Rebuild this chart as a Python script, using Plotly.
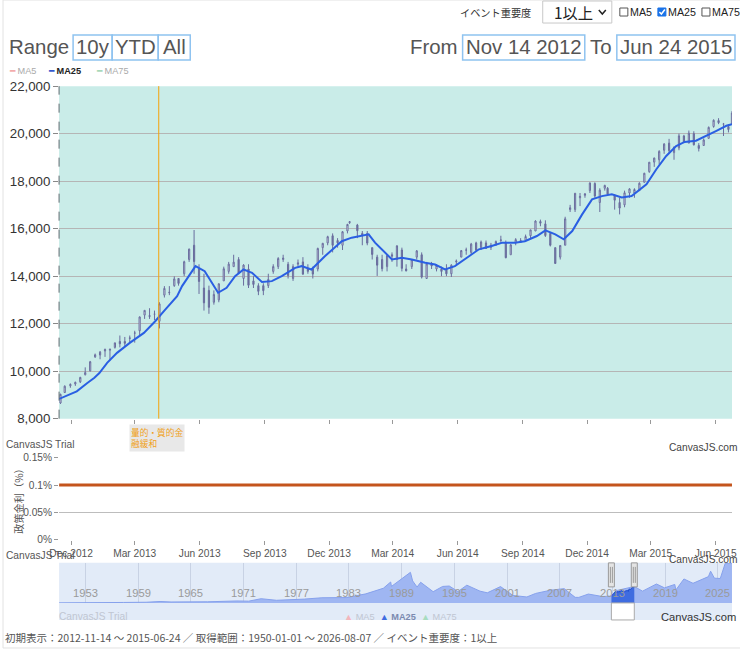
import plotly.graph_objects as go

W, H = 740, 649
# the page gets photographed with a thin border around it, so the figure is drawn a bit
# larger and pulled up/left by that border
PAD = 8
FW, FH = W + 2 * PAD, H + 2 * PAD
K = FW / W

# weekly candles (week ending)
week_dates = [
    "2012-11-16", "2012-11-22", "2012-11-30", "2012-12-07", "2012-12-14", "2012-12-21", "2012-12-28",
    "2013-01-04", "2013-01-11", "2013-01-18", "2013-01-25", "2013-02-01", "2013-02-08", "2013-02-15",
    "2013-02-22", "2013-03-01", "2013-03-08", "2013-03-15", "2013-03-22", "2013-03-29", "2013-04-05",
    "2013-04-12", "2013-04-19", "2013-04-26", "2013-05-02", "2013-05-10", "2013-05-17", "2013-05-24",
    "2013-05-31", "2013-06-07", "2013-06-14", "2013-06-21", "2013-06-28", "2013-07-05", "2013-07-12",
    "2013-07-19", "2013-07-26", "2013-08-02", "2013-08-09", "2013-08-16", "2013-08-23", "2013-08-30",
    "2013-09-06", "2013-09-13", "2013-09-20", "2013-09-27", "2013-10-04", "2013-10-11", "2013-10-18",
    "2013-10-25", "2013-11-01", "2013-11-08", "2013-11-15", "2013-11-22", "2013-11-29", "2013-12-06",
    "2013-12-13", "2013-12-20", "2013-12-27", "2013-12-30", "2014-01-10", "2014-01-17", "2014-01-24",
    "2014-01-31", "2014-02-07", "2014-02-14", "2014-02-21", "2014-02-28", "2014-03-07", "2014-03-14",
    "2014-03-20", "2014-03-28", "2014-04-04", "2014-04-11", "2014-04-18", "2014-04-25", "2014-05-02",
    "2014-05-09", "2014-05-16", "2014-05-23", "2014-05-30", "2014-06-06", "2014-06-13", "2014-06-20",
    "2014-06-27", "2014-07-04", "2014-07-11", "2014-07-18", "2014-07-25", "2014-08-01", "2014-08-08",
    "2014-08-15", "2014-08-22", "2014-08-29", "2014-09-05", "2014-09-12", "2014-09-19", "2014-09-26",
    "2014-10-03", "2014-10-10", "2014-10-17", "2014-10-24", "2014-10-31", "2014-11-07", "2014-11-14",
    "2014-11-21", "2014-11-28", "2014-12-05", "2014-12-12", "2014-12-19", "2014-12-26", "2014-12-30",
    "2015-01-09", "2015-01-16", "2015-01-23", "2015-01-30", "2015-02-06", "2015-02-13", "2015-02-20",
    "2015-02-27", "2015-03-06", "2015-03-13", "2015-03-20", "2015-03-27", "2015-04-03", "2015-04-10",
    "2015-04-17", "2015-04-24", "2015-05-01", "2015-05-08", "2015-05-15", "2015-05-22", "2015-05-29",
    "2015-06-05", "2015-06-12", "2015-06-19", "2015-06-24",
]
opens = [
    8660, 9100, 9380, 9460, 9550, 9850, 10010,
    10600, 10680, 10850, 10880, 11000, 11250, 11250,
    11400, 11600, 11700, 12360, 12300, 12400, 12100,
    13200, 13300, 13600, 13900, 14100, 14700, 15300,
    14300, 13500, 13400, 12900, 13000, 13800, 14200,
    14400, 14700, 13900, 14300, 13800, 13600, 13600,
    13600, 14200, 14400, 14700, 14500, 13900, 14500,
    14600, 14300, 14300, 14300, 15200, 15400, 15700,
    15500, 15300, 15900, 16250, 16150, 15800, 15800,
    15200, 14800, 14700, 14400, 14900, 14700, 15100,
    14300, 14400, 14800, 14900, 13900, 14500, 14300,
    14300, 14300, 14100, 14600, 14800, 15100, 15000,
    15400, 15200, 15400, 15300, 15300, 15500, 15400,
    14900, 15400, 15500, 15500, 15700, 15900, 16300,
    16200, 15800, 15200, 14800, 15300, 16800, 16800,
    17300, 17400, 17600, 17900, 17100, 17700, 17700,
    17400, 17100, 17000, 17500, 17500, 17600, 17950,
    18400, 18800, 18900, 19300, 19600, 19200, 19400,
    19900, 19600, 20000, 19500, 19500, 19800, 20300,
    20550, 20400, 20300, 20400,
]
highs = [
    9050, 9400, 9480, 9560, 9760, 10160, 10430,
    10740, 10850, 10950, 10900, 11200, 11500, 11440,
    11500, 11700, 12300, 12560, 12650, 12550, 12900,
    13580, 13580, 13990, 13900, 14650, 15160, 15942,
    14500, 14100, 13600, 13400, 13700, 14400, 14600,
    14900, 14800, 14500, 14500, 14000, 13700, 13700,
    14100, 14500, 14800, 14900, 14600, 14500, 14700,
    14800, 14500, 14400, 15200, 15400, 15700, 15800,
    15600, 15900, 16200, 16320, 16200, 15900, 15900,
    15200, 14900, 14900, 14900, 15000, 15300, 15200,
    14500, 14700, 15100, 15000, 14600, 14600, 14500,
    14400, 14500, 14500, 14700, 15100, 15200, 15400,
    15450, 15500, 15500, 15400, 15500, 15700, 15500,
    15350, 15600, 15600, 15750, 15950, 16350, 16380,
    16350, 15850, 15200, 15300, 16500, 17000, 17500,
    17500, 17500, 17950, 17950, 17700, 17850, 17750,
    17450, 17300, 17600, 17700, 17700, 17950, 18350,
    18800, 18990, 19300, 19600, 19780, 19450, 20000,
    19950, 20130, 20100, 19600, 19800, 20300, 20600,
    20650, 20450, 20400, 20950,
]
lows = [
    8620, 9080, 9300, 9380, 9500, 9820, 9990,
    10560, 10500, 10600, 10450, 10950, 11000, 11060,
    11180, 11200, 11500, 12200, 12200, 12150, 11800,
    13100, 13200, 13550, 13600, 14000, 14600, 14100,
    13250, 12550, 12415, 12800, 12900, 13800, 14100,
    14400, 14100, 13600, 13500, 13500, 13200, 13200,
    13500, 14100, 14300, 14600, 13900, 13800, 14400,
    14050, 14100, 13900, 14200, 14900, 15300, 15000,
    15200, 15100, 15800, 16200, 15600, 15300, 15300,
    14700, 14008, 14200, 14200, 14600, 14400, 14200,
    14200, 14300, 14700, 13900, 13900, 14300, 14200,
    14000, 14000, 13964, 14500, 14800, 14900, 14900,
    15050, 15100, 15150, 15100, 15300, 15400, 14750,
    14900, 15300, 15400, 15450, 15600, 15900, 16100,
    15650, 15250, 14530, 14700, 15300, 16700, 16700,
    16950, 17300, 17500, 17300, 16700, 17600, 17450,
    16800, 16600, 16900, 17300, 17300, 17600, 17950,
    18350, 18600, 18700, 19150, 19200, 18900, 19300,
    19600, 19600, 19500, 19250, 19500, 19800, 20250,
    20400, 19900, 20050, 20400,
]
closes = [
    9024, 9366, 9446, 9527, 9737, 9940, 10395,
    10688, 10801, 10913, 10926, 11191, 11153, 11173,
    11385, 11606, 12283, 12560, 12338, 12397, 12833,
    13485, 13317, 13884, 13694, 14607, 15138, 14612,
    13775, 12877, 12686, 13230, 13677, 14310, 14506,
    14589, 14130, 14466, 13615, 13650, 13360, 13389,
    13861, 14404, 14742, 14760, 14024, 14404, 14561,
    14088, 14201, 14086, 15165, 15381, 15661, 15299,
    15403, 15870, 16178, 16291, 15912, 15734, 15391,
    14914, 14462, 14313, 14865, 14841, 15274, 14327,
    14224, 14696, 15063, 13960, 14516, 14429, 14457,
    14199, 14097, 14462, 14632, 15077, 15097, 15349,
    15095, 15437, 15164, 15215, 15457, 15523, 14778,
    15318, 15539, 15424, 15668, 15948, 16321, 16229,
    15708, 15300, 14532, 15291, 16413, 16880, 17490,
    17357, 17459, 17920, 17371, 17621, 17818, 17450,
    17197, 16864, 17511, 17674, 17648, 17913, 18332,
    18797, 18971, 19254, 19560, 19286, 19435, 19907,
    19652, 20020, 19531, 19379, 19733, 20264, 20563,
    20461, 20407, 20174, 20868,
]

# 25 day moving average
ma_dates = [
    "2012-11-14", "2012-12-09", "2012-12-24", "2013-01-03", "2013-01-10", "2013-01-21", "2013-02-04",
    "2013-02-22", "2013-03-14", "2013-03-30", "2013-04-11", "2013-04-30", "2013-05-07", "2013-05-16",
    "2013-05-26", "2013-06-08", "2013-06-18", "2013-06-27", "2013-07-09", "2013-07-21", "2013-08-02",
    "2013-08-14", "2013-08-28", "2013-09-11", "2013-09-25", "2013-10-14", "2013-10-23", "2013-11-06",
    "2013-11-25", "2013-12-19", "2014-01-02", "2014-01-26", "2014-02-04", "2014-02-18", "2014-02-28",
    "2014-03-14", "2014-03-28", "2014-04-16", "2014-04-30", "2014-05-14", "2014-05-28", "2014-06-17",
    "2014-07-01", "2014-07-19", "2014-08-03", "2014-08-21", "2014-09-04", "2014-09-21", "2014-10-03",
    "2014-10-17", "2014-10-29", "2014-11-10", "2014-11-24", "2014-12-08", "2014-12-22", "2015-01-05",
    "2015-01-19", "2015-02-02", "2015-02-23", "2015-03-09", "2015-03-23", "2015-04-06", "2015-04-18",
    "2015-05-04", "2015-05-19", "2015-06-02", "2015-06-16", "2015-06-24",
]
ma_values = [
    8830, 9150, 9500, 9720, 9920, 10350, 10770,
    11190, 11610, 12100, 12520, 13160, 13580, 14000,
    14420, 14210, 13720, 13300, 13510, 14000, 14280,
    14140, 13750, 13790, 14000, 14350, 14420, 14280,
    14840, 15470, 15620, 15760, 15410, 14990, 14700,
    14770, 14700, 14560, 14490, 14280, 14420, 14840,
    15130, 15270, 15410, 15410, 15470, 15690, 15930,
    15760, 15550, 15900, 16600, 17230, 17370, 17450,
    17310, 17370, 17870, 18500, 19060, 19480, 19650,
    19700, 19900, 20120, 20330, 20400,
]

# policy rate (%)
rate_dates = ["2012-11-14", "2015-06-24"]
rate_values = [0.1, 0.1]

event_dates = ["2013-04-04"]
event_labels = ["量的・質的金<br>融緩和"]

tick_dates = ["2012-12-01", "2013-03-01", "2013-06-01", "2013-09-01", "2013-12-01", "2014-03-01",
              "2014-06-01", "2014-09-01", "2014-12-01", "2015-03-01", "2015-06-01"]
tick_labels = ["Dec 2012", "Mar 2013", "Jun 2013", "Sep 2013", "Dec 2013", "Mar 2014",
               "Jun 2014", "Sep 2014", "Dec 2014", "Mar 2015", "Jun 2015"]

# navigator, whole history
nav_dates = [
    "1950-01-01", "1950-07-01", "1953-02-01", "1954-11-01", "1957-05-01", "1959-12-01", "1961-07-01",
    "1962-10-01", "1965-07-01", "1966-12-01", "1970-04-01", "1971-08-01", "1973-01-01", "1974-10-01",
    "1977-12-01", "1979-12-01", "1982-10-01", "1984-12-01", "1986-12-01", "1987-10-01", "1987-11-01",
    "1988-12-01", "1989-12-29", "1990-04-01", "1990-10-01", "1991-03-01", "1992-08-01", "1993-09-01",
    "1994-06-01", "1995-06-01", "1996-06-01", "1997-12-01", "1998-10-01", "2000-04-01", "2001-09-01",
    "2003-04-01", "2004-04-01", "2005-12-01", "2007-07-01", "2008-10-01", "2009-03-01", "2010-04-01",
    "2011-11-01", "2012-11-01", "2013-05-22", "2015-06-24", "2016-06-01", "2018-01-01", "2018-12-01",
    "2020-02-01", "2020-03-19", "2021-02-15", "2022-03-01", "2023-12-01", "2024-03-01", "2024-08-05",
    "2025-04-07", "2025-10-31", "2026-08-07",
]
nav_values = [
    110, 90, 470, 320, 600, 870, 1830,
    1220, 1100, 1450, 2500, 2250, 5360, 3360,
    4870, 6570, 6850, 11540, 18700, 26650, 21000,
    30160, 38915, 28000, 20220, 26300, 14300, 21000,
    21500, 14500, 22600, 15000, 12900, 20800, 9500,
    7600, 12100, 16100, 18200, 7100, 7050, 11300,
    8200, 8700, 15600, 20900, 15000, 24100, 19200,
    23500, 16550, 30500, 25000, 33500, 40400, 31500,
    31100, 50500, 50800,
]
nav_years = [1953, 1959, 1965, 1971, 1977, 1983, 1989, 1995, 2001, 2007, 2013, 2019, 2025]

view_start, view_end = "2012-11-14", "2015-06-24"


def px(x):
    return x / W


def py(y):
    return 1 - y / H


def fs(size):
    return round(size * K, 1)


FONT = "Liberation Sans, Arial, sans-serif"
JP = "Noto Sans CJK JP, sans-serif"
CANDLE = "#6a6d9e"

fig = go.Figure()

fig.add_trace(go.Candlestick(
    x=week_dates, open=opens, high=highs, low=lows, close=closes,
    increasing=dict(line=dict(color=CANDLE, width=1), fillcolor="#f4f4fa"),
    decreasing=dict(line=dict(color=CANDLE, width=1), fillcolor=CANDLE),
    whiskerwidth=0, showlegend=False, xaxis="x", yaxis="y",
))
fig.add_trace(go.Scatter(
    x=ma_dates, y=ma_values, mode="lines", line=dict(color="#2a5fe3", width=2),
    showlegend=False, xaxis="x", yaxis="y",
))
fig.add_trace(go.Scatter(
    x=rate_dates, y=rate_values, mode="lines", line=dict(color="#c4541c", width=3),
    showlegend=False, xaxis="x2", yaxis="y2",
))
fig.add_trace(go.Scatter(
    x=nav_dates, y=nav_values, mode="lines", fill="tozeroy", fillcolor="#9fb6f2",
    line=dict(color="#86a1ec", width=1), showlegend=False, xaxis="x3", yaxis="y3",
))
fig.add_trace(go.Scatter(
    x=week_dates, y=closes, mode="lines", fill="tozeroy", fillcolor="#3f6ce0",
    line=dict(color="#1f4ed0", width=1), showlegend=False, xaxis="x3", yaxis="y3",
))

xdom = [px(57), px(729)]
fig.update_layout(
    width=FW, height=FH, margin=dict(l=0, r=0, t=0, b=0),
    paper_bgcolor="white", plot_bgcolor="white",
    font=dict(family=FONT, color="#444"),
    boxgap=0.2,
    xaxis=dict(domain=xdom, anchor="y", type="date", range=[view_start, view_end],
               rangeslider=dict(visible=False), showticklabels=False, showgrid=False,
               tickvals=tick_dates, ticks="outside", ticklen=4, tickcolor="#999"),
    yaxis=dict(domain=[py(419), py(87)], anchor="x", range=[8000, 22000], dtick=2000,
               tickformat=",", gridcolor="#b5b5b5", zeroline=False, ticks="outside",
               ticklen=5, tickcolor="#888", tickfont=dict(size=fs(13), color="#333")),
    xaxis2=dict(domain=xdom, anchor="y2", type="date", range=[view_start, view_end],
                tickvals=tick_dates, ticktext=tick_labels, showgrid=False,
                ticks="outside", ticklen=4, tickcolor="#999",
                tickfont=dict(size=fs(10), color="#555")),
    yaxis2=dict(domain=[py(540), py(458)], anchor="x2", range=[0, 0.15],
                tickvals=[0, 0.05, 0.1, 0.15], ticktext=["0%", "0.05%", "0.1%", "0.15%"],
                gridcolor="#bdbdbd", zeroline=False, ticks="outside", ticklen=4,
                tickcolor="#999", tickfont=dict(size=fs(10), color="#555")),
    xaxis3=dict(domain=xdom, anchor="y3", type="date", range=["1950-01-01", "2026-08-07"],
                showticklabels=False, tickvals=[f"{y}-01-01" for y in nav_years],
                showgrid=True, gridcolor="#c8d2e4"),
    yaxis3=dict(domain=[py(603), py(563)], anchor="x3", range=[0, 51000], visible=False),
)

shapes = [
    # outer frame
    dict(type="rect", xref="paper", yref="paper", x0=px(1), x1=px(739), y0=py(648), y1=py(1),
         line=dict(color="#e2e2e2", width=1)),
    # main plot background + dashed axis
    dict(type="rect", xref="x domain", yref="y domain", x0=0, x1=1, y0=0, y1=1,
         fillcolor="#c9ece8", line=dict(width=0), layer="below"),
    dict(type="line", xref="x domain", yref="y domain", x0=0, x1=0, y0=0, y1=1,
         line=dict(color="#5f6b70", width=1, dash="dash")),
    # navigator background
    dict(type="rect", xref="paper", yref="paper", x0=xdom[0], x1=xdom[1], y0=py(620), y1=py(563),
         fillcolor="#e2ebf8", line=dict(width=0), layer="below"),
    dict(type="rect", xref="x3", yref="paper", x0=view_start, x1=view_end, y0=py(620), y1=py(603),
         fillcolor="white", line=dict(color="#aaaaaa", width=1)),
    # top right select box
    dict(type="rect", xref="paper", yref="paper", x0=px(540), x1=px(609), y0=py(24), y1=py(2),
         fillcolor="white", line=dict(color="#c8c8c8", width=1)),
    dict(type="path", xref="paper", yref="paper",
         path=f"M {px(596)} {py(11)} L {px(599.5)} {py(15)} L {px(603)} {py(11)}",
         line=dict(color="#222", width=1.5)),
]

for d in event_dates:
    shapes.append(dict(type="line", xref="x", yref="y domain", x0=d, x1=d, y0=0, y1=1,
                       line=dict(color="#f5a20a", width=1)))

for d in [view_start, view_end]:
    shapes.append(dict(type="rect", xref="x3", yref="paper", xsizemode="pixel", xanchor=d,
                       x0=-3, x1=3, y0=py(587), y1=py(563),
                       fillcolor="#e4e4e4", line=dict(color="#9a9a9a", width=1)))
    for off in [-1, 1]:
        shapes.append(dict(type="line", xref="x3", yref="paper", xsizemode="pixel", xanchor=d,
                           x0=off, x1=off, y0=py(583), y1=py(567),
                           line=dict(color="#9a9a9a", width=1)))

# range buttons and date boxes
for x0, x1 in [(71, 110), (110, 156), (156, 188), (460, 582), (614, 732)]:
    shapes.append(dict(type="rect", xref="paper", yref="paper", x0=px(x0), x1=px(x1),
                       y0=py(61), y1=py(36), line=dict(color="#8fc3f0", width=1.5)))

# checkboxes
for x0, checked in [(617, False), (655, True), (699, False)]:
    shapes.append(dict(type="rect", xref="paper", yref="paper", x0=px(x0), x1=px(x0 + 8),
                       y0=py(17), y1=py(9),
                       fillcolor="#1a73e8" if checked else "white",
                       line=dict(color="#1a73e8" if checked else "#555", width=1)))
    if checked:
        shapes.append(dict(type="path", xref="paper", yref="paper",
                           path=f"M {px(x0 + 1.5)} {py(13)} L {px(x0 + 3.5)} {py(15)} L {px(x0 + 7)} {py(10.5)}",
                           line=dict(color="white", width=1.5)))

fig.update_layout(shapes=shapes)

ann = []


def text(x, y, s, size, color="#555", xanchor="left", family=FONT, **kw):
    ann.append(dict(xref="paper", yref="paper", x=px(x), y=py(y), text=s, showarrow=False,
                    xanchor=xanchor, yanchor="middle",
                    font=dict(size=fs(size), color=color, family=family), **kw))


text(5, 48, "Range", 20)
text(90.5, 48, "10y", 20, xanchor="center")
text(133, 48, "YTD", 20, xanchor="center")
text(172, 48, "All", 20, xanchor="center")
text(457, 48, "From", 20, xanchor="right")
text(521, 48, "Nov 14 2012", 20, xanchor="center")
text(598, 48, "To", 20, xanchor="center")
text(673, 48, "Jun 24 2015", 20, xanchor="center")

text(530, 13, "イベント重要度", 10, color="#333", xanchor="right", family=JP)
text(549, 13, "1以上", 15, color="#222", family=JP)
text(625, 13, "MA5", 10.5, color="#222")
text(663, 13, "MA25", 10.5, color="#222")
text(707, 13, "MA75", 10.5, color="#222")

text(5, 72, "<span style='color:#f2a3a3'>━</span> MA5", 9, color="#aaa")
text(44, 72, "<span style='color:#2046c8'>━</span> <b>MA25</b>", 9, color="#222")
text(92, 72, "<span style='color:#9fd4b2'>━</span> MA75", 9, color="#aaa")

text(2, 445, "CanvasJS Trial", 10, color="#555")
text(737, 448, "CanvasJS.com", 10, color="#444", xanchor="right")
text(2, 556, "CanvasJS Trial", 10, color="#555")
text(737, 560, "CanvasJS.com", 10, color="#444", xanchor="right")
text(55, 617, "CanvasJS Trial", 10, color="#c0c6d2")
text(340, 617, "<span style='color:#f3b6bd'>▲</span> MA5  <span style='color:#3f6ce0'>▲</span> "
     "<b style='color:#7b8ab0'>MA25</b>  <span style='color:#a8dcc0'>▲</span> MA75", 9, color="#c0c6d2")
text(735, 617, "CanvasJS.com", 11, color="#333", xanchor="right")

text(17, 499, "政策金利（%）", 10, color="#555", xanchor="center", family=JP, textangle=-90)

text(1, 638, "初期表示：2012-11-14 〜 2015-06-24 ／ 取得範囲：1950-01-01 〜 2026-08-07 ／ イベント重要度：1以上",
     10.3, color="#555", family=JP)

for d, label in zip(event_dates, event_labels):
    ann.append(dict(xref="x", yref="paper", x=d, y=py(424), text=label, showarrow=False,
                    xanchor="center", yanchor="top", align="left", bgcolor="#e8e8e8",
                    xshift=-2, font=dict(size=fs(8.5), color="#f0a020", family=JP)))

for y in nav_years:
    ann.append(dict(xref="x3", yref="paper", x=f"{y}-01-01", y=py(593), text=str(y),
                    showarrow=False, xanchor="center", yanchor="middle",
                    font=dict(size=fs(11), color="#9a9a9a", family=FONT)))

fig.update_layout(annotations=ann)

page_fix = (
    "document.documentElement.style.margin='0';document.documentElement.style.padding='0';"
    "document.body.style.margin='0';document.body.style.padding='0';document.body.style.overflow='hidden';"
    "var g=document.getElementsByClassName('plotly-graph-div')[0];"
    f"g.style.position='fixed';g.style.left='-{PAD}px';g.style.top='-{PAD}px';"
)
fig.write_html("out.html", config={"displayModeBar": False}, post_script=page_fix)
